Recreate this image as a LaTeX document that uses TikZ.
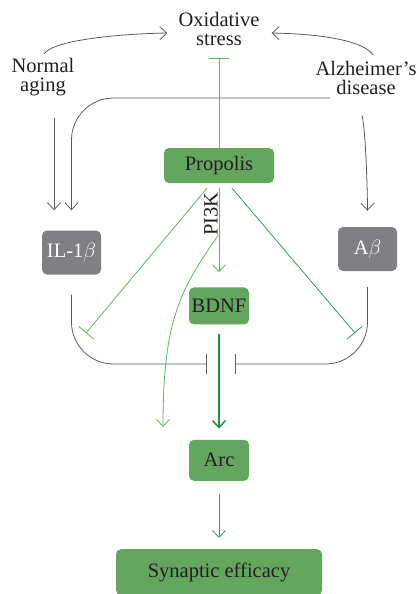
\documentclass[tikz,border=0pt]{standalone}
\usepackage{fontspec}
\setmainfont{Liberation Serif}
\usetikzlibrary{arrows.meta,positioning}

\definecolor{boxgreen}{RGB}{99,166,94}
\definecolor{boxgray}{RGB}{128,128,132}
\definecolor{linegray}{RGB}{90,90,92}
\definecolor{lgreen}{RGB}{92,184,92}
\definecolor{mgreen}{RGB}{52,160,76}
\definecolor{dgreen}{RGB}{30,148,64}
\definecolor{txtdark}{RGB}{35,31,32}

\begin{document}
\begin{tikzpicture}[x=1pt,y=-1pt,>={Straight Barb[length=7pt,width=13pt]},font=\fontsize{20.5}{19}\selectfont]
  \tikzstyle{gene}=[rectangle,rounded corners=5pt,fill=boxgreen,text=txtdark,minimum width=60pt,minimum height=37pt,inner sep=0pt]
  \tikzstyle{factor}=[gene,fill=boxgray,text=white,minimum width=59pt,minimum height=44pt]
  \tikzstyle{plain}=[align=center,text=txtdark,inner sep=0pt]
  \tikzstyle{inhibit}=[-{Bar[width=20pt]}]
  \tikzstyle{grayline}=[line width=0.8pt,draw=linegray]

  \useasboundingbox (0,0) rectangle (415,594);

  \begin{scope}
    % labels
    \node [plain] (ox)    at (219,28.5) {Oxidative\\stress};
    \node [plain] (aging) at (43,77.5)  {Normal\\aging};
    \node [plain] (ad)    at (366,77.5) {Alzheimer's\\disease};
    % boxes
    \node [gene,minimum width=110pt,minimum height=35pt] (prop) at (219,165.5) {Propolis};
    \node [gene] (bdnf) [below = 104pt of prop] {BDNF};
    \node [gene,minimum height=41pt] (arc) [below = 115pt of bdnf] {Arc};
    \node [gene,minimum width=206pt,minimum height=46pt] (syn) [below = 68pt of arc] {Synaptic efficacy};
    \node [factor] (il) at (71.5,252.5) {IL-1$\beta$};
    \node [factor] (ab) at (367.5,249)  {A$\beta$};
    \node [plain,rotate=90] (pik) at (211,214) {PI3K};
    % free ends
    \coordinate (agt)   at (44,54);
    \coordinate (adt)   at (373,55);
    \coordinate (adl)   at (330,98);
    \coordinate (ilinh) at (86,333);
    \coordinate (abinh) at (355,333);
    \coordinate (split) at (218.5,235);
    \coordinate (arcl)  at (163,427);
    \coordinate (barl)  at (207,364);
    \coordinate (barr)  at (235,364);
  \end{scope}

  \begin{scope}
    % into oxidative stress
    \draw [->, grayline] (agt) .. controls +(8,-13) and +(-55,1) .. ([xshift=-11pt,yshift=-4.5pt]ox.west);
    \draw [->, grayline] (adt) .. controls +(-8,-13) and +(55,1) .. ([xshift=12pt,yshift=-4.5pt]ox.east);
    % into IL-1b and Abeta
    \draw [->, grayline, rounded corners=42pt] (adl) -| ([yshift=20pt]il.north);
    \draw [->, grayline] ([xshift=11pt,yshift=-21pt]aging.south) -- ([xshift=-17.5pt,yshift=20pt]il.north);
    \draw [->, grayline] ([xshift=-4pt,yshift=-21pt]ad.south) to [out=-75,in=90,looseness=0.4] ([yshift=16pt]ab.north);
    \draw [inhibit, grayline, rounded corners=42pt] ([yshift=-20pt]il.south) |- (barl);
    \draw [inhibit, grayline, rounded corners=42pt] ([yshift=-16pt]ab.south) |- (barr);
    % propolis
    \draw [inhibit, lgreen, line width=0.8pt] (prop.north) -- ([yshift=-13pt]ox.south);
    \draw [->, lgreen, line width=0.8pt] ([yshift=-5pt]prop.south) -- ([yshift=15pt]bdnf.north);
    \draw [inhibit, lgreen, line width=0.8pt] ([xshift=-12pt,yshift=-5pt]prop.south) -- (ilinh);
    \draw [inhibit, mgreen, line width=0.8pt] ([xshift=13pt,yshift=-5pt]prop.south) -- (abinh);
    \draw [->, lgreen, line width=0.8pt] (split) .. controls (180,290) and (163,320) .. (arcl);
    % down to synapse
    \draw [->, dgreen, line width=1.5pt] ([yshift=-9pt]bdnf.south) -- ([yshift=11pt]arc.north);
    \draw [->, mgreen, line width=0.8pt] ([yshift=-13pt]arc.south) -- ([yshift=11pt]syn.north);
  \end{scope}
\end{tikzpicture}
\end{document}
